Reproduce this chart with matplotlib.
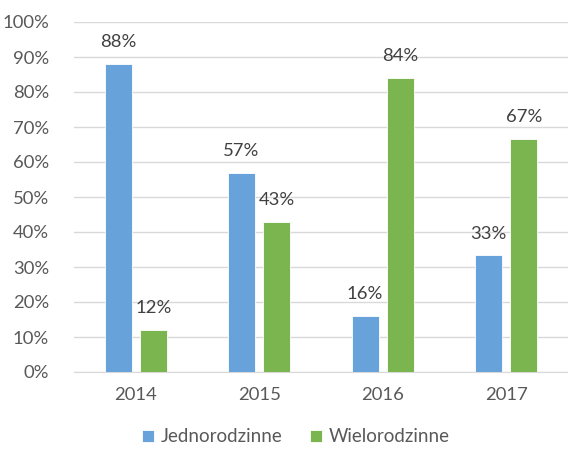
import matplotlib
matplotlib.use("Agg")
import matplotlib.pyplot as plt
import numpy as np

categories = ["2014", "2015", "2016", "2017"]
jednorodzinne = [88, 57, 16, 33.3]
wielorodzinne = [12, 43, 84, 66.7]
jedno_labels = ["88%", "57%", "16%", "33%"]
wielo_labels = ["12%", "43%", "84%", "67%"]
series_names = ["Jednorodzinne", "Wielorodzinne"]

plt.rcParams['font.family'] = ['Lato', 'DejaVu Sans']

fig = plt.figure(figsize=(5.68, 4.5), dpi=100)
ax = fig.add_axes([74/568, 78/450, 494/568, 350/450])

blue = "#67A3DA"
green = "#7AB54F"
x = np.arange(len(categories))
w = 0.22
off = 0.143
b1 = ax.bar(x - off, jednorodzinne, w, color=blue, edgecolor="white", linewidth=0.6, label=series_names[0], zorder=3)
b2 = ax.bar(x + off, wielorodzinne, w, color=green, edgecolor="white", linewidth=0.6, label=series_names[1], zorder=3)

for rect, lab in zip(b1, jedno_labels):
    ax.annotate(lab, (rect.get_x() + rect.get_width()/2, rect.get_height()),
                xytext=(0, 15.5), textcoords="offset points", ha="center", va="center",
                fontsize=13.3, color="#404040")
for rect, lab in zip(b2, wielo_labels):
    ax.annotate(lab, (rect.get_x() + rect.get_width()/2, rect.get_height()),
                xytext=(0, 15.5), textcoords="offset points", ha="center", va="center",
                fontsize=13.3, color="#404040")

ax.set_xlim(-0.5, 3.5)
ax.set_ylim(0, 100)
ax.set_yticks(np.arange(0, 101, 10))
ax.set_yticklabels([f"{v}%" for v in range(0, 101, 10)])
ax.set_xticks(x)
ax.set_xticklabels(categories)
ax.tick_params(axis='both', length=0, labelsize=13.3, labelcolor="#595959")
ax.tick_params(axis='y', pad=18)
ax.tick_params(axis='x', pad=11)
ax.grid(axis='y', color="#D9D9D9", linewidth=1, zorder=0)
for s in ["top", "right", "left"]:
    ax.spines[s].set_visible(False)
ax.spines["bottom"].set_color("#D9D9D9")

fig.legend(handles=[b1, b2], labels=series_names, loc="center", bbox_to_anchor=(0.521, 1 - 437/450),
           ncol=2, frameon=False, fontsize=13.5, handlelength=0.65, handleheight=0.65,
           columnspacing=1.45, handletextpad=0.35, labelcolor="#595959")

fig.savefig("out.png", dpi=100)
